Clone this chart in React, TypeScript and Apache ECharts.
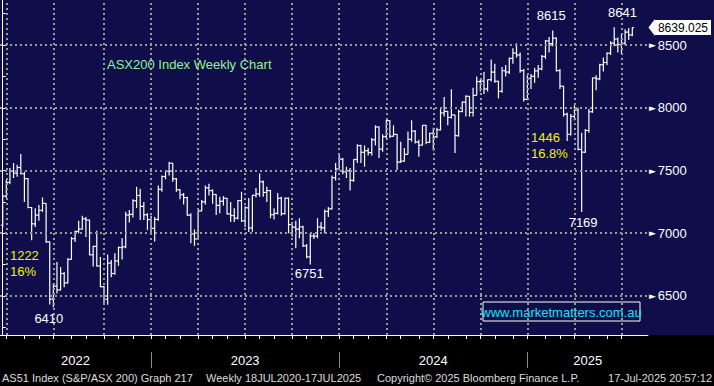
import React, { useEffect, useRef } from 'react';
import * as echarts from 'echarts';

// Weekly bars (Friday week-ends), first week ending 2022-03-18
const FIRST_WEEK_UTC = Date.UTC(2022, 2, 18);

const opens = [
  7064, 7296, 7406, 7494, 7479, 7524, 7474, 7435, 7205, 7075,
  7145, 7182, 7238, 6931, 6475, 6578, 6548, 6679, 6605, 6792,
  6957, 7015, 7033, 7115, 7105, 6828, 6895, 6739, 6574, 6474,
  6762, 6679, 6779, 6886, 6892, 7146, 7151, 7259, 7301, 7214,
  7147, 7109, 7039, 7110, 7350, 7452, 7493, 7558, 7434, 7347,
  7307, 7284, 7144, 6995, 6955, 7178, 7250, 7362, 7340, 7309,
  7222, 7255, 7279, 7154, 7141, 7120, 7260, 7099, 7203, 7042,
  7303, 7313, 7410, 7325, 7340, 7148, 7159, 7279, 7156, 7279,
  7069, 7048, 7033, 7051, 6899, 6812, 6978, 6977, 7050, 7043,
  7174, 7194, 7443, 7513, 7591, 7490, 7498, 7421, 7588, 7699,
  7645, 7658, 7643, 7745, 7847, 7670, 7770, 7897, 7773, 7788,
  7567, 7575, 7629, 7749, 7814, 7727, 7702, 7860, 7724, 7796,
  7768, 7824, 7959, 7972, 7923, 7943, 7778, 7970, 8045, 8091,
  7963, 8099, 8209, 8212, 8150, 8224, 8284, 8211, 8131, 8295,
  8285, 8393, 8436, 8421, 8296, 8067, 8235, 8251, 8294, 8310,
  8409, 8532, 8511, 8555, 8296, 8172, 7948, 7789, 7931, 7982,
  7668, 7646, 7819, 7968, 8238, 8231, 8343, 8361, 8435, 8515,
  8548, 8505, 8514, 8603, 8580,
];
const highs = [
  7305, 7424, 7520, 7560, 7545, 7632, 7490, 7440, 7210, 7200,
  7225, 7285, 7240, 6935, 6600, 6770, 6730, 6690, 6800, 6970,
  7020, 7100, 7140, 7130, 7108, 6900, 7020, 6810, 6580, 6830,
  6786, 6840, 6895, 6960, 7171, 7185, 7270, 7370, 7355, 7250,
  7160, 7140, 7130, 7380, 7460, 7500, 7570, 7560, 7440, 7350,
  7320, 7290, 7160, 7030, 7180, 7265, 7380, 7395, 7350, 7310,
  7290, 7296, 7280, 7250, 7200, 7265, 7330, 7215, 7280, 7305,
  7360, 7477, 7420, 7370, 7345, 7200, 7320, 7290, 7285, 7285,
  7090, 7100, 7120, 7060, 6915, 7000, 7000, 7120, 7090, 7190,
  7210, 7460, 7560, 7628, 7600, 7530, 7520, 7590, 7710, 7705,
  7700, 7680, 7760, 7860, 7850, 7790, 7905, 7900, 7860, 7790,
  7730, 7680, 7810, 7900, 7820, 7745, 7860, 7862, 7800, 7840,
  7840, 7990, 8085, 7975, 8148, 7945, 7985, 8050, 8100, 8095,
  8160, 8250, 8225, 8285, 8225, 8385, 8350, 8215, 8325, 8340,
  8400, 8475, 8514, 8440, 8310, 8260, 8270, 8320, 8340, 8420,
  8540, 8565, 8615, 8560, 8310, 8175, 7960, 7950, 8020, 8000,
  7800, 7830, 7990, 8240, 8260, 8350, 8400, 8440, 8530, 8641,
  8560, 8590, 8625, 8635, 8640,
];
const lows = [
  7050, 7280, 7390, 7440, 7450, 7470, 7250, 7200, 6945, 7050,
  7100, 7170, 6925, 6433, 6410, 6520, 6545, 6570, 6600, 6790,
  6930, 7000, 7030, 6970, 6825, 6735, 6735, 6570, 6430, 6430,
  6650, 6670, 6740, 6790, 6880, 7085, 7125, 7200, 7105, 7105,
  7025, 7000, 6935, 7100, 7330, 7430, 7460, 7410, 7330, 7270,
  7230, 7140, 6920, 6900, 6950, 7175, 7230, 7300, 7235, 7145,
  7160, 7220, 7150, 7090, 7090, 7110, 7090, 7050, 7010, 7012,
  7285, 7290, 7290, 7250, 7120, 7110, 7150, 7140, 7150, 7000,
  6975, 6880, 6960, 6890, 6800, 6751, 6955, 6960, 7020, 7000,
  7130, 7190, 7420, 7500, 7470, 7440, 7340, 7410, 7560, 7560,
  7530, 7620, 7620, 7700, 7600, 7650, 7755, 7760, 7770, 7505,
  7560, 7570, 7630, 7730, 7715, 7610, 7700, 7710, 7720, 7660,
  7760, 7820, 7930, 7860, 7915, 7640, 7770, 7965, 7930, 7930,
  7930, 8100, 8130, 8110, 8130, 8210, 8200, 8075, 8120, 8250,
  8270, 8350, 8400, 8280, 8050, 8060, 8150, 8200, 8240, 8300,
  8390, 8440, 8490, 8290, 8150, 7930, 7735, 7780, 7900, 7660,
  7169, 7640, 7800, 7960, 8140, 8220, 8290, 8340, 8420, 8490,
  8440, 8430, 8500, 8540, 8570,
];
const closes = [
  7296, 7406, 7494, 7479, 7524, 7474, 7435, 7205, 7075, 7145,
  7182, 7238, 6931, 6475, 6578, 6548, 6679, 6605, 6792, 6957,
  7015, 7033, 7115, 7105, 6828, 6895, 6739, 6574, 6474, 6762,
  6679, 6779, 6886, 6892, 7146, 7151, 7259, 7301, 7214, 7147,
  7109, 7039, 7110, 7350, 7452, 7493, 7558, 7434, 7347, 7307,
  7284, 7144, 6995, 6955, 7178, 7250, 7362, 7340, 7309, 7222,
  7255, 7279, 7154, 7141, 7120, 7260, 7099, 7203, 7042, 7303,
  7313, 7410, 7325, 7340, 7148, 7159, 7279, 7156, 7279, 7069,
  7048, 7033, 7051, 6899, 6812, 6978, 6977, 7050, 7043, 7174,
  7194, 7443, 7513, 7591, 7490, 7498, 7421, 7588, 7699, 7645,
  7658, 7643, 7745, 7847, 7670, 7770, 7897, 7773, 7788, 7567,
  7575, 7629, 7749, 7814, 7727, 7702, 7860, 7724, 7796, 7768,
  7824, 7959, 7972, 7923, 7943, 7778, 7970, 8045, 8091, 7963,
  8099, 8209, 8212, 8150, 8224, 8284, 8211, 8131, 8295, 8285,
  8393, 8436, 8421, 8296, 8067, 8235, 8251, 8294, 8310, 8409,
  8532, 8511, 8555, 8296, 8172, 7948, 7789, 7931, 7982, 7668,
  7646, 7819, 7968, 8238, 8231, 8343, 8361, 8435, 8515, 8548,
  8505, 8514, 8603, 8580, 8639.025,
];

const yearLabels = ['2022', '2023', '2024', '2025'];
const priceGridValues = [6500, 7000, 7500, 8000, 8500];
const priceMinorTicks = [6250, 6500, 6750, 7000, 7250, 7500, 7750, 8000, 8250, 8500, 8750];
const lastPrice = 8639.025;

// Annotations: [bar position, price level]
const priceNotes = [
  { text: '8615', bar: 151.6, value: 8739 },
  { text: '8641', bar: 171.3, value: 8763 },
  { text: '6410', bar: 12.75, value: 6317 },
  { text: '6751', bar: 84.7, value: 6679 },
  { text: '7169', bar: 160.4, value: 7082 },
];
const moveNotes = [
  { text: '1446\n16.8%', bar: 146.0, value: 7703 },
  { text: '1222\n16%', bar: 2.0, value: 6755 },
];

const X_MIN = -0.744;
const X_MAX = 178.32;
const Y_MIN = 6189;
const Y_MAX = 8859;

const FONT = 'Liberation Sans, Arial, sans-serif';
const NAVY = '#0f0e4a';

export default function App() {
  const ref = useRef<HTMLDivElement>(null);

  useEffect(() => {
    if (!ref.current) return;
    const chart = echarts.init(ref.current, null, { renderer: 'svg', width: 714, height: 386 });

    const dates = closes.map((_, i) => new Date(FIRST_WEEK_UTC + i * 7 * 86400000));
    const monthEnds: number[] = [];
    const quarterEnds: number[] = [];
    const yearEnds: number[] = [];
    for (let i = 0; i < dates.length - 1; i++) {
      const a = dates[i], b = dates[i + 1];
      if (a.getUTCMonth() !== b.getUTCMonth()) {
        monthEnds.push(i);
        if (b.getUTCMonth() % 3 === 0) quarterEnds.push(i);
      }
      if (a.getUTCFullYear() !== b.getUTCFullYear()) yearEnds.push(i);
    }
    const bounds = [X_MIN, ...yearEnds, X_MAX];
    const yearCenters = yearLabels.map((_, k) => (bounds[k] + bounds[k + 1]) / 2);

    const ohlc = closes.map((c, i) => [i, opens[i], highs[i], lows[i], c]);

    const option: any = {
      animation: false,
      backgroundColor: 'transparent',
      textStyle: { fontFamily: FONT },
      title: {
        text: 'ASX200 Index Weekly Chart',
        left: 107,
        top: 58,
        padding: 0,
        textStyle: { color: '#8ef58e', fontSize: 13, fontWeight: 'normal', fontFamily: FONT },
      },
      grid: { left: 0, right: 64, top: 0, bottom: 51, show: false },
      xAxis: [
        {
          type: 'value',
          min: X_MIN,
          max: X_MAX,
          position: 'bottom',
          axisLine: { show: true, onZero: false, lineStyle: { color: '#ffffff', width: 1 } },
          axisTick: { show: true, customValues: monthEnds, length: 4, lineStyle: { color: '#ffffff' } },
          axisLabel: {
            customValues: yearCenters,
            margin: 19,
            color: '#ffffff',
            fontSize: 13,
            fontFamily: FONT,
            formatter: (v: number) => {
              let best = 0;
              yearCenters.forEach((c, k) => {
                if (Math.abs(c - v) < Math.abs(yearCenters[best] - v)) best = k;
              });
              return yearLabels[best];
            },
          },
          splitLine: { show: false },
        },
        {
          type: 'value',
          min: X_MIN,
          max: X_MAX,
          position: 'bottom',
          offset: 17,
          axisLine: { show: false, onZero: false },
          axisTick: { show: true, customValues: yearEnds, length: 16, lineStyle: { color: '#8a8a8a' } },
          axisLabel: { show: false },
          splitLine: { show: false },
        },
      ],
      yAxis: [
        {
          type: 'value',
          position: 'right',
          min: Y_MIN,
          max: Y_MAX,
          axisLine: { show: true, lineStyle: { color: '#ffffff', width: 1 } },
          axisTick: { show: true, customValues: priceMinorTicks, length: 3, lineStyle: { color: '#ffffff' } },
          axisLabel: {
            customValues: priceGridValues,
            margin: 1,
            formatter: (v: number) => `{t|►}{n|${v}}`,
            rich: {
              t: { color: '#ffffff', fontSize: 9, fontFamily: 'DejaVu Sans', padding: [0, 2, 0, 0], verticalAlign: 'middle' },
              n: { color: '#ffffff', fontSize: 13, fontFamily: FONT, verticalAlign: 'middle' },
            },
          },
          splitLine: { show: false },
        },
        {
          type: 'value',
          position: 'right',
          min: Y_MIN,
          max: Y_MAX,
          axisLine: { show: false },
          axisTick: { show: false },
          splitLine: { show: false },
          axisLabel: {
            customValues: [lastPrice],
            margin: 7,
            formatter: () => lastPrice.toFixed(3),
            color: '#000000',
            backgroundColor: '#ffffff',
            padding: [2, 3, 1, 3],
            fontSize: 12,
            fontFamily: FONT,
          },
        },
      ],
      graphic: [
        {
          type: 'group',
          children: [
            { type: 'rect', shape: { x: 483, y: 302, width: 157, height: 19 }, style: { fill: 'none', stroke: '#ffffff', lineWidth: 1 } },
            { type: 'text', x: 561.5, y: 312, style: { text: 'www.marketmatters.com.au', fill: '#1ee0f0', font: `13px ${FONT}`, textAlign: 'center', textVerticalAlign: 'middle' } },
          ],
        },
        { type: 'text', x: 2, y: 378, style: { text: 'AS51 Index (S&P/ASX 200) Graph 217', fill: '#dcdcdc', font: `11px ${FONT}`, textVerticalAlign: 'middle' } },
        { type: 'text', x: 206, y: 378, style: { text: 'Weekly 18JUL2020-17JUL2025', fill: '#dcdcdc', font: `11px ${FONT}`, textVerticalAlign: 'middle' } },
        { type: 'text', x: 377, y: 378, style: { text: 'Copyright© 2025 Bloomberg Finance L.P.', fill: '#dcdcdc', font: `11px ${FONT}`, textVerticalAlign: 'middle' } },
        { type: 'text', x: 712, y: 378, style: { text: '17-Jul-2025 20:57:12', fill: '#dcdcdc', font: `11px ${FONT}`, textAlign: 'right', textVerticalAlign: 'middle' } },
      ],
      series: [
        {
          type: 'line',
          data: [],
          silent: true,
          z: 1,
          markLine: {
            silent: true,
            symbol: ['none', 'none'],
            label: { show: false },
            lineStyle: { color: '#9b9b9b', type: [2, 3], width: 2 },
            data: [
              ...quarterEnds.map((v) => ({ xAxis: v })),
              ...priceGridValues.map((v) => ({ yAxis: v })),
            ],
          },
          markPoint: {
            silent: true,
            symbol: 'rect',
            symbolSize: 1,
            itemStyle: { color: 'rgba(0,0,0,0)' },
            data: [
              ...priceNotes.map((n) => ({
                coord: [n.bar, n.value],
                label: { show: true, position: 'inside', formatter: n.text, color: '#ffffff', fontSize: 13, fontFamily: FONT, align: 'center' },
              })),
              ...moveNotes.map((n) => ({
                coord: [n.bar, n.value],
                label: { show: true, position: 'inside', formatter: n.text, color: '#f2f200', fontSize: 13, lineHeight: 16, fontFamily: FONT, align: 'left' },
              })),
            ],
          },
        },
        {
          type: 'custom',
          z: 3,
          clip: true,
          data: ohlc,
          encode: { x: 0, y: [1, 2, 3, 4] },
          renderItem: (params: any, api: any) => {
            const x = api.value(0);
            const o = api.coord([x, api.value(1)]);
            const h = api.coord([x, api.value(2)]);
            const l = api.coord([x, api.value(3)]);
            const c = api.coord([x, api.value(4)]);
            const w = 1.8;
            const style = { stroke: '#ffffff', lineWidth: 1.2 };
            return {
              type: 'group',
              children: [
                { type: 'line', shape: { x1: h[0], y1: h[1], x2: l[0], y2: l[1] }, style },
                { type: 'line', shape: { x1: o[0] - w, y1: o[1], x2: o[0], y2: o[1] }, style },
                { type: 'line', shape: { x1: c[0], y1: c[1], x2: c[0] + w, y2: c[1] }, style },
              ],
            };
          },
        },
      ],
    };

    chart.setOption(option);
    const py = chart.convertToPixel({ yAxisIndex: 0 }, lastPrice) as number;
    const px = chart.convertToPixel({ xAxisIndex: 0 }, X_MAX) as number;
    chart.setOption({
      graphic: [
        ...option.graphic,
        {
          type: 'polygon',
          shape: { points: [[px + 0.5, py], [px + 7, py - 8.5], [px + 7, py + 8.5]] },
          style: { fill: '#ffffff' },
        },
      ],
    });

    return () => chart.dispose();
  }, []);

  return (
    <div
      ref={ref}
      style={{
        position: 'absolute',
        left: 0,
        top: 0,
        width: 714,
        height: 386,
        background: `linear-gradient(to bottom, ${NAVY} 0px, ${NAVY} 335px, #000000 335px, #000000 386px)`,
      }}
    />
  );
}
